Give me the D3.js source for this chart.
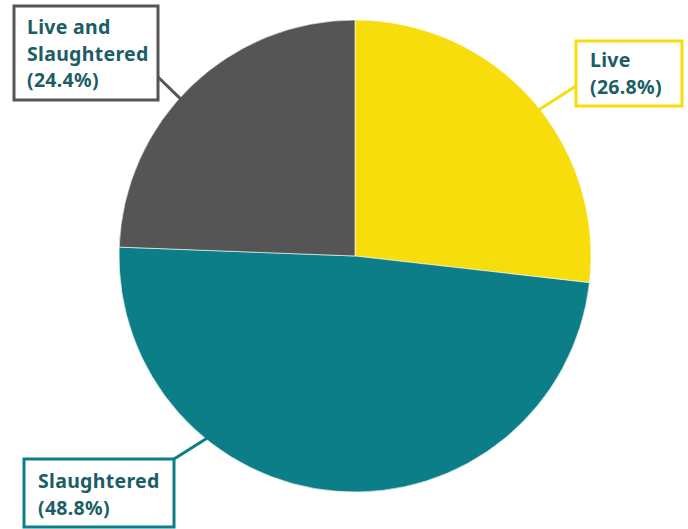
<!DOCTYPE html>
<html>
<head>
<meta charset="utf-8">
<script src="https://cdn.jsdelivr.net/npm/d3@7"></script>
<style>
  html, body { margin: 0; padding: 0; background: #ffffff; }
  svg { display: block; }
</style>
</head>
<body>
<svg id="chart" width="688" height="529"></svg>
<script>
// Share of animals by outcome
const categories = ["Live", "Slaughtered", "Live and Slaughtered"];
const shares = [26.8, 48.8, 24.4];
const colors = ["#F6DD0B", "#0C7E87", "#545554"];

// Callout boxes: box rectangle, text origin, connector start, and the angle
// (degrees clockwise from 12 o'clock) where the connector meets the pie edge.
const callouts = [
  { box: [576, 41, 106, 65], text: [590, 67], from: [576, 86], angle: 51.5 },
  { box: [24, 459, 150, 68], text: [38, 488], from: [174, 459], angle: 219 },
  { box: [14, 6, 144, 94], text: [27, 34], from: [158, 77], angle: 312 }
];

const textColor = "#1B5E65";
const lineHeight = 26.5;

const svg = d3.select("#chart");
const cx = 355, cy = 256, r = 236;

const pie = d3.pie().sort(null).value(d => d)(shares);
const arc = d3.arc().innerRadius(0).outerRadius(r);

const g = svg.append("g").attr("transform", `translate(${cx},${cy})`);
g.selectAll("path")
  .data(pie)
  .join("path")
  .attr("d", arc)
  .attr("fill", (d, i) => colors[i])
  .attr("stroke", "#ffffff")
  .attr("stroke-width", 0.6);

const labels = svg.append("g");
callouts.forEach((c, i) => {
  const a = c.angle * Math.PI / 180;
  const ex = cx + (r - 2) * Math.sin(a);
  const ey = cy - (r - 2) * Math.cos(a);

  labels.append("line")
    .attr("x1", c.from[0]).attr("y1", c.from[1])
    .attr("x2", ex).attr("y2", ey)
    .attr("stroke", colors[i])
    .attr("stroke-width", 3);

  labels.append("rect")
    .attr("x", c.box[0]).attr("y", c.box[1])
    .attr("width", c.box[2]).attr("height", c.box[3])
    .attr("fill", "#ffffff")
    .attr("stroke", colors[i])
    .attr("stroke-width", 3);

  const words = categories[i] === "Live and Slaughtered"
    ? ["Live and", "Slaughtered"]
    : [categories[i]];
  const lines = words.concat([`(${shares[i].toFixed(1)}%)`]);

  const t = labels.append("text")
    .attr("x", c.text[0]).attr("y", c.text[1])
    .attr("fill", textColor)
    .attr("font-family", "'Noto Sans', 'Open Sans', sans-serif")
    .attr("font-weight", 700)
    .attr("font-size", 19.5)
    .attr("letter-spacing", 0.3);
  lines.forEach((s, k) => {
    t.append("tspan")
      .attr("x", c.text[0])
      .attr("dy", k === 0 ? 0 : lineHeight)
      .text(s);
  });
});
</script>
</body>
</html>
